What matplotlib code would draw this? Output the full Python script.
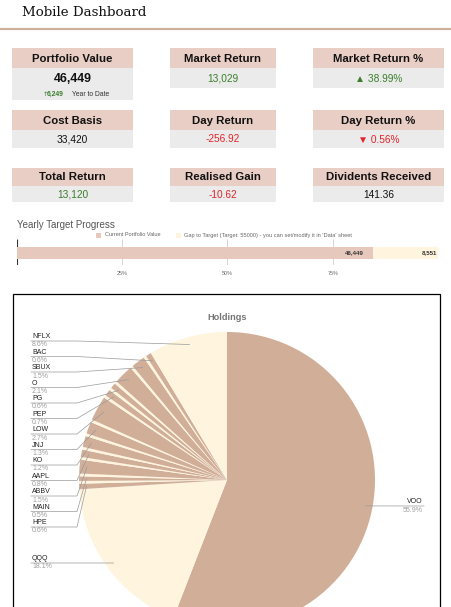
import matplotlib
matplotlib.use("Agg")
import matplotlib.pyplot as plt
from matplotlib.patches import Rectangle
import numpy as np

plt.rcParams['font.family'] = ['Liberation Sans', 'DejaVu Sans']

# summary cards
card_titles = ["Portfolio Value", "Market Return", "Market Return %",
               "Cost Basis", "Day Return", "Day Return %",
               "Total Return", "Realised Gain", "Dividents Received"]
card_values = ["46,449", "13,029", "▲ 38.99%",
               "33,420", "-256.92", "▼ 0.56%",
               "13,120", "-10.62", "141.36"]
card_tone = ["plain", "up", "up", "plain", "down", "down", "up", "down", "plain"]
ytd_change = "6,249"

# yearly target
current_value = 46449
target_value = 55000
progress_ticks = [25, 50, 75]

# holdings (% of portfolio), clockwise from 12 o'clock; '' = slice without label
holdings = ["VOO", "QQQ", "HPE", "", "MAIN", "", "ABBV", "", "AAPL", "", "KO", "",
            "JNJ", "", "LOW", "", "PEP", "", "PG", "", "O", "", "SBUX", "", "BAC", "NFLX"]
weights = [55.9, 18.1, 0.6, 0.3, 0.5, 0.3, 1.5, 0.3, 0.8, 0.3, 1.2, 0.3,
           1.3, 0.3, 2.7, 0.3, 0.7, 0.3, 0.6, 0.3, 2.1, 0.3, 1.5, 0.3, 0.6, 8.6]

TAN = "#d1ae98"
CREAM = "#fff4dd"
HEAD = "#e9cec5"
BODY = "#ebebeb"
GREEN = "#3a7d2c"
RED = "#e3242b"
tone_col = {"plain": "#111111", "up": GREEN, "down": RED}

fig = plt.figure(figsize=(4.52, 6.07), dpi=100)
ax = fig.add_axes([0, 0, 1, 1])
ax.set_xlim(0, 452)
ax.set_ylim(607, 0)
ax.axis("off")

# header
ax.text(22, 13, "Mobile Dashboard", family="DejaVu Serif", fontsize=9.6,
        color="#111111", va="center", ha="left")
ax.plot([0, 452], [29, 29], color="#cfb09c", lw=1.6, solid_capstyle="butt")

# cards
cols_x = [(12, 133), (170, 276), (313, 444)]
rows_y = [(48, 68, 88), (110, 130, 148), (168, 186, 202)]
for i, (title, val, tone) in enumerate(zip(card_titles, card_values, card_tone)):
    r, c = divmod(i, 3)
    x0, x1 = cols_x[c]
    h0, h1, b1 = rows_y[r]
    if i == 0:
        b1 = 100
    ax.add_patch(Rectangle((x0, h0), x1 - x0, h1 - h0, facecolor=HEAD, lw=0))
    ax.add_patch(Rectangle((x0, h1), x1 - x0, b1 - h1, facecolor=BODY, lw=0))
    xc = (x0 + x1) / 2
    ax.text(xc, (h0 + h1) / 2 + 0.5, title, fontsize=8.2, fontweight="bold",
            color="#111111", ha="center", va="center")
    if i == 0:
        ax.text(xc, 79, val, fontsize=8.9, fontweight="bold", color="#111111",
                ha="center", va="center")
        ax.text(42.5, 94, "↑", family="DejaVu Sans", fontsize=4.6, color=GREEN,
                ha="left", va="center")
        ax.text(46.5, 94, ytd_change, fontsize=4.9, fontweight="bold", color=GREEN,
                ha="left", va="center")
        ax.text(72, 94, "Year to Date", fontsize=4.9, color="#333333",
                ha="left", va="center")
    else:
        yv = (h1 + b1) / 2 + 0.5
        ax.text(xc, yv, val, fontsize=7.3, color=tone_col[tone],
                ha="center", va="center")

# yearly target progress
ax.text(17, 225, "Yearly Target Progress", fontsize=7.0, color="#555555",
        ha="left", va="center")
ax.add_patch(Rectangle((96, 233), 5, 4.5, facecolor="#e6c8bd", lw=0))
ax.text(105, 235, "Current Portfolio Value", fontsize=4.0, color="#666666",
        ha="left", va="center")
ax.add_patch(Rectangle((176, 233), 5, 4.5, facecolor=CREAM, lw=0))
ax.text(184, 235, "Gap to Target (Target: 55000) - you can set/modify it in 'Data' sheet",
        fontsize=4.1, color="#666666", ha="left", va="center")

bx = fig.add_axes([17 / 452, 1 - 265 / 607, 421 / 452, 26 / 607])
bx.set_xlim(0, target_value)
bx.set_ylim(-1.0, 1.1667)
for s in bx.spines.values():
    s.set_visible(False)
gap = target_value - current_value
grid_x = [target_value * p / 100 for p in [0] + progress_ticks + [100]]
bx.vlines(grid_x[1:], -1.0, 1.1667, color="#d4d4d4", lw=0.7, zorder=0)
bx.vlines(grid_x[0], -1.0, 1.1667, color="#333333", lw=0.8, zorder=0)
bx.barh([0], [current_value], height=1, color="#e6c8bd", lw=0, zorder=2)
bx.barh([0], [gap], left=[current_value], height=1, color=CREAM, lw=0, zorder=2)
bx.text(current_value - 1200, 0, f"{current_value:,}", fontsize=4.4, fontweight="bold",
        color="#333333", ha="right", va="center", zorder=3)
bx.text(target_value - 150, 0, f"{gap:,}", fontsize=4.4, fontweight="bold",
        color="#333333", ha="right", va="center", zorder=3)
bx.set_yticks([])
bx.set_xticks([target_value * p / 100 for p in progress_ticks])
bx.set_xticklabels([f"{p}%" for p in progress_ticks], fontsize=3.9, color="#666666")
bx.tick_params(axis="x", length=0, pad=4.5)
bx.patch.set_alpha(0)

# holdings pie
ax.add_patch(Rectangle((13, 294), 427, 400, facecolor="white", edgecolor="black",
                       lw=0.9, zorder=0))
ax.text(227, 317, "Holdings", fontsize=6.6, fontweight="bold", color="#757575",
        ha="center", va="center")
cx, cy, rad = 227, 480, 148
pie_cols = [TAN if k % 2 == 0 else CREAM for k in range(len(weights))]
wedges, _ = ax.pie(weights, colors=pie_cols, startangle=-90, counterclock=True,
                   center=(cx, cy), radius=rad, frame=True,
                   wedgeprops=dict(linewidth=0))
for w in wedges:
    w.set_zorder(2)
ax.set_xlim(0, 452)
ax.set_ylim(607, 0)
ax.axis("off")

anchors = {}
for name, w in zip(holdings, wedges):
    if name:
        a = np.deg2rad((w.theta1 + w.theta2) / 2)
        anchors[name] = (cx + 0.95 * rad * np.cos(a), cy + 0.95 * rad * np.sin(a))
pct = dict(zip(holdings, weights))

left_order = ["NFLX", "BAC", "SBUX", "O", "PG", "PEP", "LOW", "JNJ", "KO",
              "AAPL", "ABBV", "MAIN", "HPE"]
line_y = {n: 341 + 15.5 * k for k, n in enumerate(left_order)}
line_y["QQQ"] = 563
for name, ly in line_y.items():
    axp, ayp = anchors[name]
    ax.plot([31, 77, axp], [ly, ly, ayp], color="#9a9a9a", lw=0.5, zorder=3)
    ax.text(32, ly - 4.2, name, fontsize=5.0, color="#222222", ha="left", va="center")
    ax.text(32, ly + 4.0, f"{pct[name]:.1f}%", fontsize=5.0, color="#9e9e9e",
            ha="left", va="center")

axp, ayp = anchors["VOO"]
ax.plot([424, axp], [506, ayp], color="#9a9a9a", lw=0.5, zorder=3)
ax.text(423, 501.8, "VOO", fontsize=5.0, color="#222222", ha="right", va="center")
ax.text(423, 510, f"{pct['VOO']:.1f}%", fontsize=5.0, color="#9e9e9e",
        ha="right", va="center")

fig.savefig("out.png", dpi=100, facecolor="white")
